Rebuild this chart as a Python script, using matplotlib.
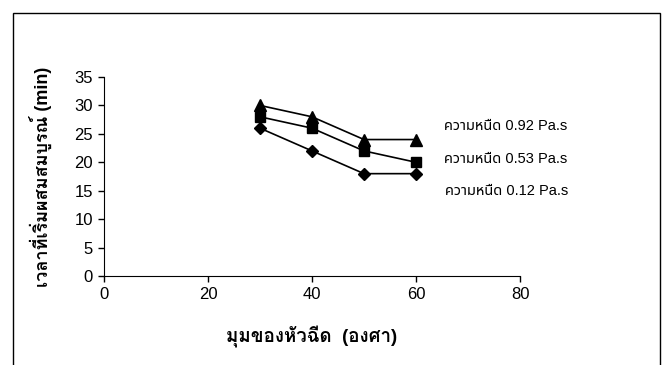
import matplotlib
matplotlib.use("Agg")
import matplotlib.pyplot as plt
from matplotlib.patches import Rectangle

angles = [30, 40, 50, 60]
time_092 = [30, 28, 24, 24]
time_053 = [28, 26, 22, 20]
time_012 = [26, 22, 18, 18]
series_labels = ["ความหนืด 0.92 Pa.s", "ความหนืด 0.53 Pa.s", "ความหนืด 0.12 Pa.s"]
label_pos = [(65.3, 26.3), (65.3, 20.6), (65.6, 14.9)]
x_ticks = [0, 20, 40, 60, 80]
y_ticks = [0, 5, 10, 15, 20, 25, 30, 35]

# Latin glyphs from Liberation Sans, Thai falls through to Loma
plt.rcParams["font.family"] = ["Liberation Sans", "Loma", "DejaVu Sans"]
note_family = ["Liberation Sans", "Noto Sans Thai", "DejaVu Sans"]

fig = plt.figure(figsize=(6.71, 3.65), dpi=100)
fig.patches.append(Rectangle((13 / 671, -0.1), (660 - 13) / 671, 1.1 - 13 / 365,
                             transform=fig.transFigure, fill=False,
                             edgecolor="black", linewidth=1.0))

ax = fig.add_axes([104 / 671, 1 - 276 / 365, 416 / 671, 199 / 365])
ax.plot(angles, time_092, color="black", marker="^", markersize=9, linewidth=1.2)
ax.plot(angles, time_053, color="black", marker="s", markersize=7.5, linewidth=1.2)
ax.plot(angles, time_012, color="black", marker="D", markersize=6.5, linewidth=1.2)

for text, (x, y) in zip(series_labels, label_pos):
    ax.text(x, y, text, fontsize=10.5, family=note_family, va="center", ha="left",
            clip_on=False)

ax.set_xlim(0, 80)
ax.set_ylim(0, 35)
ax.set_xticks(x_ticks)
ax.set_yticks(y_ticks)
ax.tick_params(direction="out", length=4, width=1, labelsize=12)
ax.tick_params(axis="x", pad=4)
ax.tick_params(axis="y", pad=4)
for side in ("top", "right"):
    ax.spines[side].set_visible(False)

ax.set_xlabel("มุมของหัวฉีด  (องศา)", fontsize=13.5, fontweight="bold", labelpad=17)
ax.set_ylabel("เวลาที่เริ่มผสมสมบูรณ์ (min)", fontsize=13, fontweight="bold", labelpad=16)

fig.savefig("out.png", dpi=100)
